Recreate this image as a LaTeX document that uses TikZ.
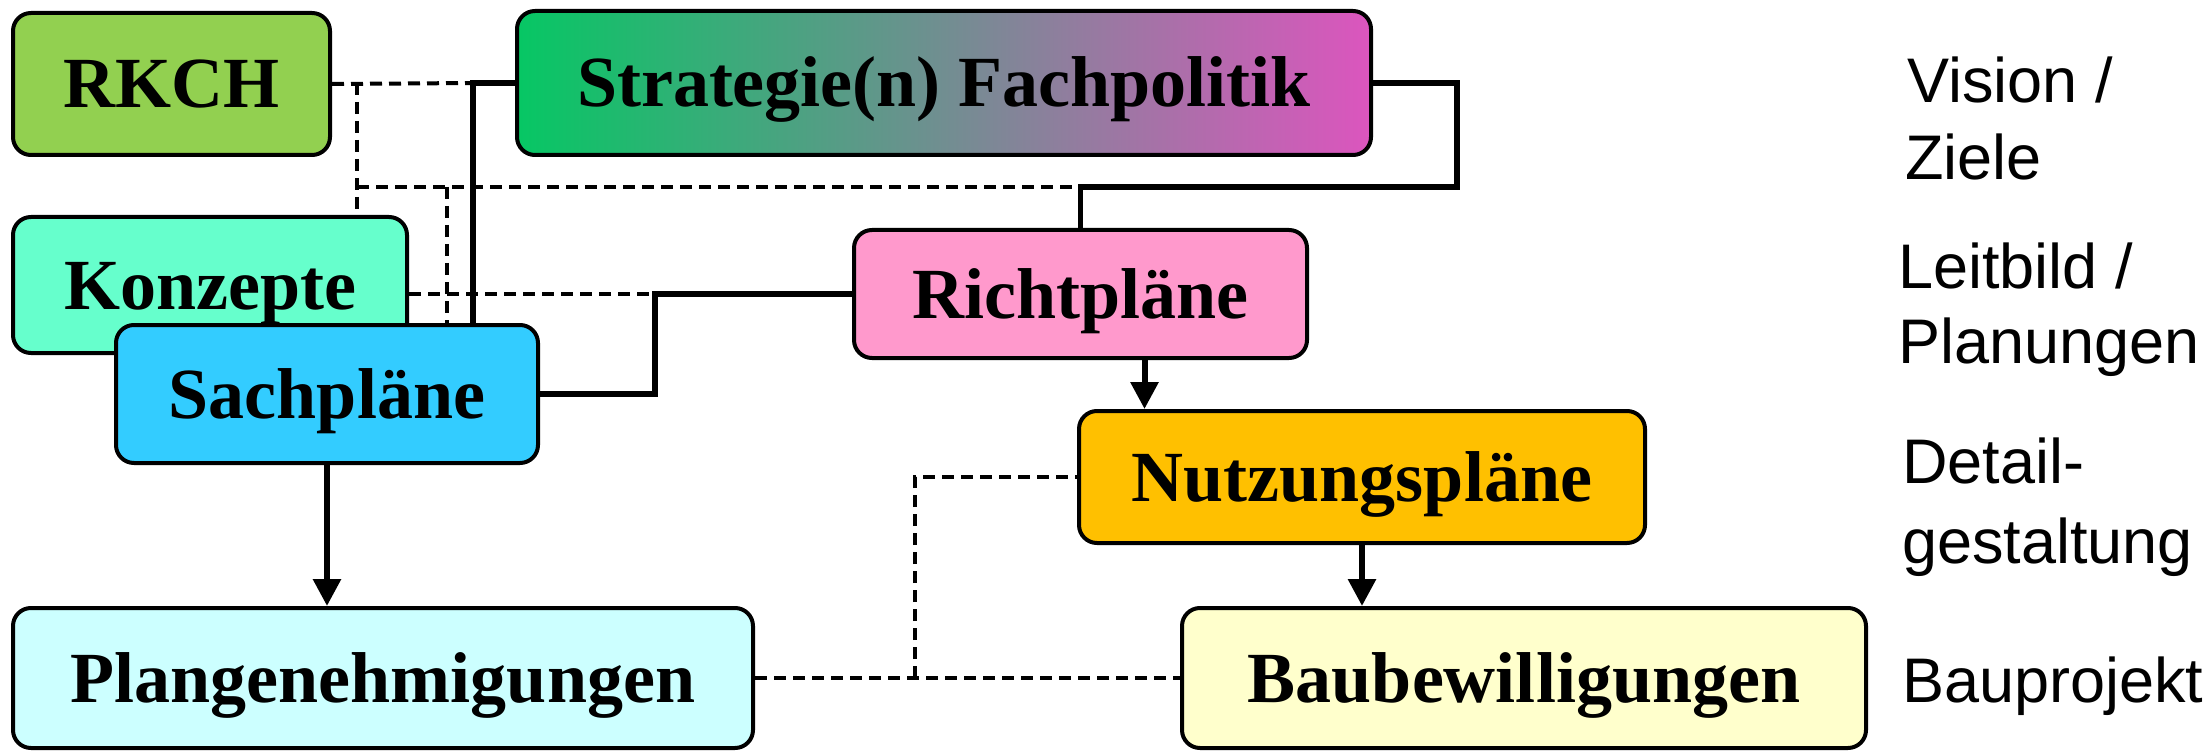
\documentclass[tikz,border=0pt]{standalone}
\usepackage{fontspec}
\setmainfont{Liberation Serif}
\newfontfamily\labelfont{Liberation Sans}
\usetikzlibrary{arrows.meta}
\definecolor{cRKCH}{HTML}{92D050}
\definecolor{cKonz}{HTML}{66FFCC}
\definecolor{cSach}{HTML}{33CCFF}
\definecolor{cRicht}{HTML}{FF99CC}
\definecolor{cNutz}{HTML}{FFC000}
\definecolor{cPlan}{HTML}{CCFFFF}
\definecolor{cBau}{HTML}{FFFFCC}
\definecolor{cStratL}{HTML}{06C764}
\definecolor{cStratR}{HTML}{DC55BE}
\begin{document}
\begin{tikzpicture}[x=1pt,y=-1pt,
  box/.style={draw=black, line width=4pt, rounded corners=18pt, inner sep=0pt,
    font=\fontsize{72}{80}\selectfont\bfseries, text height=48pt, text depth=0pt, align=center},
  conn/.style={line width=5.5pt},
  dconn/.style={line width=4pt, dash pattern=on 12pt off 7pt},
  arr/.style={line width=6pt, -{Triangle[length=27pt,width=27pt]}},
  lbl/.style={font=\labelfont\fontsize{63}{76}\selectfont, anchor=base west, inner sep=0pt}
]
\useasboundingbox (0,0) rectangle (2210,751);

% nodes
\node[box, fill=cRKCH, minimum width=317pt, minimum height=142pt] (rkch) at (171.5,84) {RKCH};
\node[box, left color=cStratL, right color=cStratR, minimum width=854pt, minimum height=144pt] (strat) at (944,83) {Strategie(n) Fachpolitik};
\node[box, fill=cKonz, minimum width=394pt, minimum height=136pt] (konz) at (210,285) {Konzepte};
\node[box, fill=cSach, minimum width=422pt, minimum height=138pt] (sach) at (327,394) {Sachpläne};
\node[box, fill=cRicht, minimum width=453pt, minimum height=128pt] (richt) at (1080.5,294) {Richtpläne};
\node[box, fill=cNutz, minimum width=566pt, minimum height=132pt] (nutz) at (1362,477) {Nutzungspläne};
\node[box, fill=cPlan, minimum width=740pt, minimum height=140pt] (plan) at (383,678) {Plangenehmigungen};
\node[box, fill=cBau, minimum width=684pt, minimum height=140pt] (bau) at (1524,678) {Baubewilligungen};

% helper coordinates
\coordinate (j1) at (473,83);
\coordinate (d1) at (357,83);
\coordinate (d2) at (357,187);
\coordinate (d3) at (447,187);
\coordinate (s2) at (1457,187);
\coordinate (k1) at (655,294);
\coordinate (n1) at (915,678);

% dashed connectors
\draw[dconn] (rkch.east) -- (j1);
\draw[dconn] (d1) -- (d1 |- konz.north);
\draw[dconn] (d2) -- (richt.north |- s2);
\draw[dconn] (d3) -- (d3 |- sach.north);
\draw[dconn] (konz.east |- richt.west) -- (k1);
\draw[dconn] (plan.east) -- (bau.west);
\draw[dconn] (n1) |- (nutz.west);

% solid connectors
\draw[conn] (strat.west) -- (j1) -- (j1 |- sach.north);
\draw[conn] (strat.east) -| (s2) -| (richt.north);
\draw[conn] (sach.east) -| (k1) -- (richt.west);

% arrows
\draw[arr] (sach.south) -- (sach.south |- plan.north);
\draw[arr] ([xshift=64pt]richt.south) -- ([xshift=64pt]richt.south |- nutz.north);
\draw[arr] (nutz.south) -- (nutz.south |- bau.north);

% level labels
\node[lbl] (l1) at (1907,103) {Vision /};
\node[lbl] (l2) at (1905,180) {Ziele};
\node[lbl] (l3) at (1898,288) {Leitbild /};
\node[lbl] (l4) at (1898,363) {Planungen};
\node[lbl] (l5) at (1902,483) {Detail-};
\node[lbl] (l6) at (1902,563) {gestaltung};
\node[lbl] (l7) at (1902,702) {Bauprojekt};
\end{tikzpicture}
\end{document}
